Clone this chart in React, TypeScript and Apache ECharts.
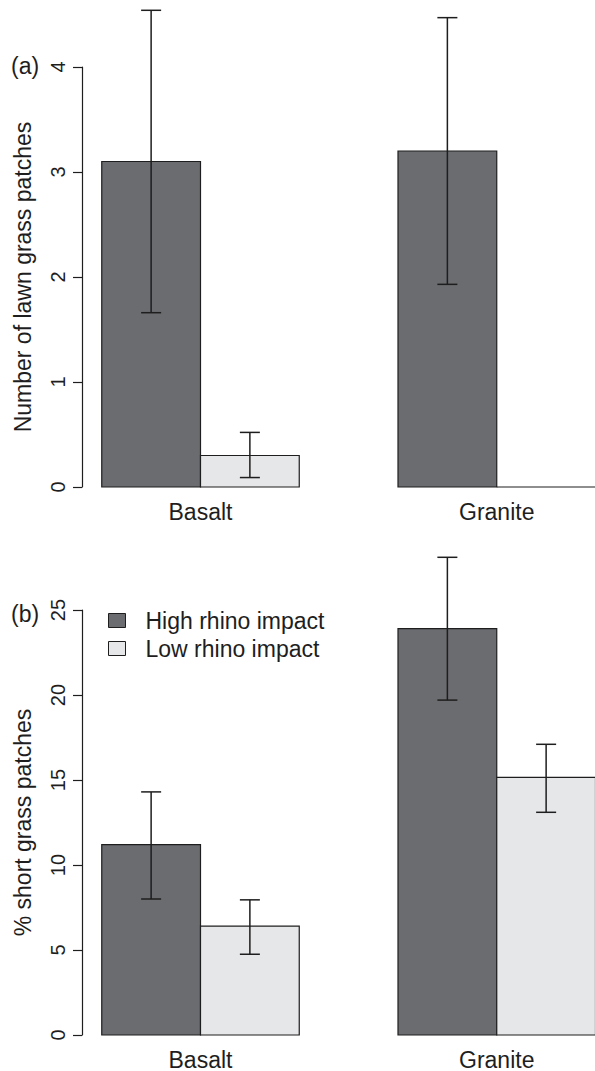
import React, { useEffect, useRef } from "react";
import * as echarts from "echarts";

const categories = ["Basalt", "Granite"];
const seriesNames = ["High rhino impact", "Low rhino impact"];

// Panel (a): number of lawn grass patches
const lawnHigh = [3.1, 3.2];
const lawnHighLo = [1.66, 1.93];
const lawnHighHi = [4.54, 4.47];
const lawnLow = [0.3, 0];
const lawnLowLo = [0.09, null];
const lawnLowHi = [0.52, null];

// Panel (b): % short grass patches
const shortHigh = [11.2, 23.9];
const shortHighLo = [8.0, 19.7];
const shortHighHi = [14.3, 28.1];
const shortLow = [6.4, 15.15];
const shortLowLo = [4.75, 13.1];
const shortLowHi = [7.95, 17.1];

const lawnAxis = { min: 0, max: 4, interval: 1 };
const shortAxis = { min: 0, max: 25, interval: 5 };

const panelTags = ["(a)", "(b)"];
const yTitles = ["Number of lawn grass patches", "% short grass patches"];

const FONT = "'Liberation Sans', Arial, Helvetica, sans-serif";
const INK = "#1e1e1e";
const FILLS = ["#6b6c70", "#e6e7e9"];

function buildData(vals: number[], lo: (number | null)[], hi: (number | null)[]) {
  return vals.map((v, i) => [i, v, lo[i] == null ? NaN : lo[i], hi[i] == null ? NaN : hi[i]]);
}

function makeRender(offset: number, fill: string) {
  return (params: any, api: any) => {
    const cat = api.value(0);
    const v = api.value(1);
    const lo = api.value(2);
    const hi = api.value(3);
    const x0 = 1 + cat * 3 + offset;
    const p0 = api.coord([x0, v]);
    const p1 = api.coord([x0 + 1, 0]);
    const children: any[] = [
      {
        type: "rect",
        shape: { x: p0[0], y: p0[1], width: p1[0] - p0[0], height: p1[1] - p0[1] },
        style: { fill, stroke: INK, lineWidth: 1.2 },
      },
    ];
    if (Number.isFinite(lo) && Number.isFinite(hi)) {
      const pl = api.coord([x0 + 0.5, lo]);
      const ph = api.coord([x0 + 0.5, hi]);
      const cap = 10;
      const st = { stroke: INK, lineWidth: 1.5 };
      children.push(
        { type: "line", shape: { x1: pl[0], y1: pl[1], x2: ph[0], y2: ph[1] }, style: st },
        { type: "line", shape: { x1: pl[0] - cap, y1: pl[1], x2: pl[0] + cap, y2: pl[1] }, style: st },
        { type: "line", shape: { x1: ph[0] - cap, y1: ph[1], x2: ph[0] + cap, y2: ph[1] }, style: st }
      );
    }
    return { type: "group", children };
  };
}

export default function App() {
  const ref = useRef<HTMLDivElement>(null);
  useEffect(() => {
    if (!ref.current) return;
    const chart = echarts.init(ref.current, null, { renderer: "svg" });
    const unit = 98.75;
    const xMin = 0.8;
    const xMax = 6.2;
    const gridLeft = 82;
    const gridWidth = (xMax - xMin) * unit;

    const xAxisCommon = (gridIndex: number, margin: number) => ({
      type: "value",
      gridIndex,
      min: xMin,
      max: xMax,
      axisLine: { show: false },
      axisTick: { show: false },
      splitLine: { show: false },
      axisLabel: {
        customValues: categories.map((_, i) => 2 + i * 3),
        formatter: (val: number) => categories[Math.round((val - 2) / 3)] ?? "",
        fontSize: 23,
        color: INK,
        fontFamily: FONT,
        margin,
      },
    });

    const yAxisCommon = (gridIndex: number, ax: any, name: string) => ({
      type: "value",
      gridIndex,
      min: ax.min,
      max: ax.max,
      interval: ax.interval,
      name,
      nameLocation: "middle",
      nameGap: 48,
      nameTextStyle: { fontSize: 23, color: INK, fontFamily: FONT },
      axisLine: { show: true, lineStyle: { color: INK, width: 1.2 } },
      axisTick: { show: true, length: 9, lineStyle: { color: INK, width: 1.2 } },
      splitLine: { show: false },
      axisLabel: { rotate: 90, fontSize: 20, color: INK, fontFamily: FONT, margin: 14 },
    });

    const option: any = {
      animation: false,
      backgroundColor: "#ffffff",
      textStyle: { fontFamily: FONT },
      grid: [
        { left: gridLeft, top: 67, width: gridWidth, height: 420, outerBoundsMode: "none", containLabel: false },
        { left: gridLeft, top: 610, width: gridWidth, height: 425, outerBoundsMode: "none", containLabel: false },
      ],
      xAxis: [xAxisCommon(0, 13), xAxisCommon(1, 13)],
      yAxis: [yAxisCommon(0, lawnAxis, yTitles[0]), yAxisCommon(1, shortAxis, yTitles[1])],
      legend: {
        data: seriesNames,
        orient: "vertical",
        left: 103,
        top: 604,
        icon: "rect",
        itemWidth: 17,
        itemHeight: 14,
        itemGap: 5,
        itemStyle: { borderColor: INK, borderWidth: 1 },
        textStyle: { fontSize: 23, color: INK, fontFamily: FONT, padding: [0, 0, 0, 15] },
      },
      graphic: [
        { type: "text", left: 11, top: 54, style: { text: panelTags[0], fontSize: 23, fill: INK, font: `23px ${FONT}` } },
        { type: "text", left: 11, top: 602, style: { text: panelTags[1], fontSize: 23, fill: INK, font: `23px ${FONT}` } },
      ],
      series: [
        {
          type: "custom",
          name: seriesNames[0],
          xAxisIndex: 0,
          yAxisIndex: 0,
          clip: false,
          itemStyle: { color: FILLS[0] },
          encode: { x: 0, y: 1 },
          renderItem: makeRender(0, FILLS[0]),
          data: buildData(lawnHigh, lawnHighLo, lawnHighHi),
        },
        {
          type: "custom",
          name: seriesNames[1],
          xAxisIndex: 0,
          yAxisIndex: 0,
          clip: false,
          itemStyle: { color: FILLS[1] },
          encode: { x: 0, y: 1 },
          renderItem: makeRender(1, FILLS[1]),
          data: buildData(lawnLow, lawnLowLo, lawnLowHi),
        },
        {
          type: "custom",
          name: seriesNames[0],
          xAxisIndex: 1,
          yAxisIndex: 1,
          clip: false,
          itemStyle: { color: FILLS[0] },
          encode: { x: 0, y: 1 },
          renderItem: makeRender(0, FILLS[0]),
          data: buildData(shortHigh, shortHighLo, shortHighHi),
        },
        {
          type: "custom",
          name: seriesNames[1],
          xAxisIndex: 1,
          yAxisIndex: 1,
          clip: false,
          itemStyle: { color: FILLS[1] },
          encode: { x: 0, y: 1 },
          renderItem: makeRender(1, FILLS[1]),
          data: buildData(shortLow, shortLowLo, shortLowHi),
        },
      ],
    };
    chart.setOption(option);
    return () => chart.dispose();
  }, []);
  return (
    <div
      ref={ref}
      style={{ position: "absolute", left: 0, top: 0, width: 595, height: 1071, overflow: "hidden" }}
    />
  );
}
